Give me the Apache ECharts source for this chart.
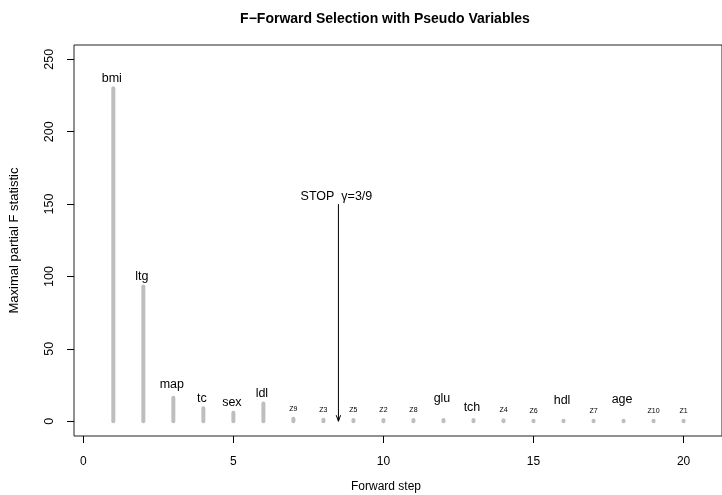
<!DOCTYPE html>
<html>
<head>
<meta charset="utf-8">
<script src="https://cdn.jsdelivr.net/npm/echarts@6/dist/echarts.min.js"></script>
<style>
  html, body { margin: 0; padding: 0; background: #ffffff; }
  #chart { width: 722px; height: 495px; }
</style>
</head>
<body>
<div id="chart"></div>
<script>
// ---- data ----
const steps = [1, 2, 3, 4, 5, 6, 7, 8, 9, 10, 11, 12, 13, 14, 15, 16, 17, 18, 19, 20];
const varNames = ['bmi', 'ltg', 'map', 'tc', 'sex', 'ldl', 'Z9', 'Z3', 'Z5', 'Z2', 'Z8', 'glu', 'tch', 'Z4', 'Z6', 'hdl', 'Z7', 'age', 'Z10', 'Z1'];
const fStats = [230, 93, 16.3, 8.9, 5.9, 12.3, 1.7, 1.0, 0.9, 0.9, 0.9, 0.8, 0.8, 0.7, 0.3, 0.3, 0.3, 0.3, 0.3, 0.3];
const stopStep = 8.5;
const stopF = 150;
const stopLabel = 'STOP  \u03b3=3/9';
const xTicks = [0, 5, 10, 15, 20];
const yTicks = [0, 50, 100, 150, 200, 250];

// ---- styling (not data) ----
const FONT = "'Liberation Sans', Arial, Helvetica, sans-serif";
const labelLift = { map: 3, glu: 12, tch: 3, hdl: 10, age: 11 };

const chart = echarts.init(document.getElementById('chart'), null, { renderer: 'canvas' });

const barData = steps.map((s, i) => [s, fStats[i]]);

const option = {
  animation: false,
  backgroundColor: '#ffffff',
  title: {
    text: 'F\u2212Forward Selection with Pseudo Variables',
    left: 380,
    textAlign: 'center',
    top: 7,
    textStyle: { fontFamily: FONT, fontSize: 14, fontWeight: 'bold', color: '#000' }
  },
  grid: {
    left: 70, top: 45, right: -9, bottom: 59,
    show: true, borderColor: '#222', borderWidth: 1, backgroundColor: 'transparent'
  },
  xAxis: {
    type: 'value',
    min: -0.31, max: 21.28,
    axisLine: { show: false, onZero: false },
    axisTick: { show: true, length: 7, inside: false, customValues: xTicks, lineStyle: { color: '#000' } },
    axisLabel: { customValues: xTicks, margin: 20, fontFamily: FONT, fontSize: 12, color: '#000' },
    splitLine: { show: false }
  },
  yAxis: {
    type: 'value',
    min: -10.2, max: 259.9,
    name: 'Maximal partial F statistic',
    nameLocation: 'middle',
    nameRotate: 90,
    nameGap: 53,
    nameTextStyle: { fontFamily: FONT, fontSize: 13, color: '#000' },
    axisLine: { show: false, onZero: false },
    axisTick: { show: true, length: 7, inside: false, customValues: yTicks, lineStyle: { color: '#000' } },
    axisLabel: { customValues: yTicks, rotate: 90, margin: 18, fontFamily: FONT, fontSize: 12.5, color: '#000' },
    splitLine: { show: false }
  },
  graphic: [
    {
      type: 'text',
      left: 351,
      top: 481,
      style: { text: 'Forward step', fill: '#000', font: '12px ' + FONT }
    }
  ],
  series: [
    {
      type: 'custom',
      data: barData,
      clip: false,
      renderItem: function (params, api) {
        const x = api.value(0), v = api.value(1);
        const p0 = api.coord([x, 0]);
        const p1 = api.coord([x, v]);
        const name = varNames[params.dataIndex];
        const pseudo = name.charAt(0) === 'Z';
        const lift = labelLift[name] || 0;
        return {
          type: 'group',
          children: [
            {
              type: 'line',
              shape: { x1: p0[0], y1: p0[1], x2: p1[0], y2: p1[1] },
              style: { stroke: '#bebebe', lineWidth: 4, lineCap: 'round' }
            },
            {
              type: 'text',
              x: p1[0] - (pseudo ? 0 : 1.5), y: p1[1] - 10 - lift,
              style: {
                text: name,
                fill: '#000',
                font: (pseudo ? '7px ' : '12.5px ') + FONT,
                textAlign: 'center',
                textVerticalAlign: 'middle'
              }
            }
          ]
        };
      }
    },
    {
      type: 'custom',
      data: [[stopStep, stopF]],
      clip: false,
      renderItem: function (params, api) {
        const x = api.value(0), v = api.value(1);
        const top = api.coord([x, v]);
        const bot = api.coord([x, 0]);
        const ah = 6, aw = 2.2;
        return {
          type: 'group',
          children: [
            {
              type: 'line',
              shape: { x1: top[0], y1: top[1], x2: bot[0], y2: bot[1] },
              style: { stroke: '#000', lineWidth: 1 }
            },
            {
              type: 'polyline',
              shape: { points: [[bot[0] - aw, bot[1] - ah], [bot[0], bot[1]], [bot[0] + aw, bot[1] - ah]] },
              style: { stroke: '#000', lineWidth: 1, fill: null }
            },
            {
              type: 'text',
              x: top[0] - 2, y: top[1] - 8,
              style: {
                text: stopLabel,
                fill: '#000',
                font: '12.5px ' + FONT,
                textAlign: 'center',
                textVerticalAlign: 'middle'
              }
            }
          ]
        };
      }
    }
  ]
};

chart.setOption(option);
</script>
</body>
</html>
